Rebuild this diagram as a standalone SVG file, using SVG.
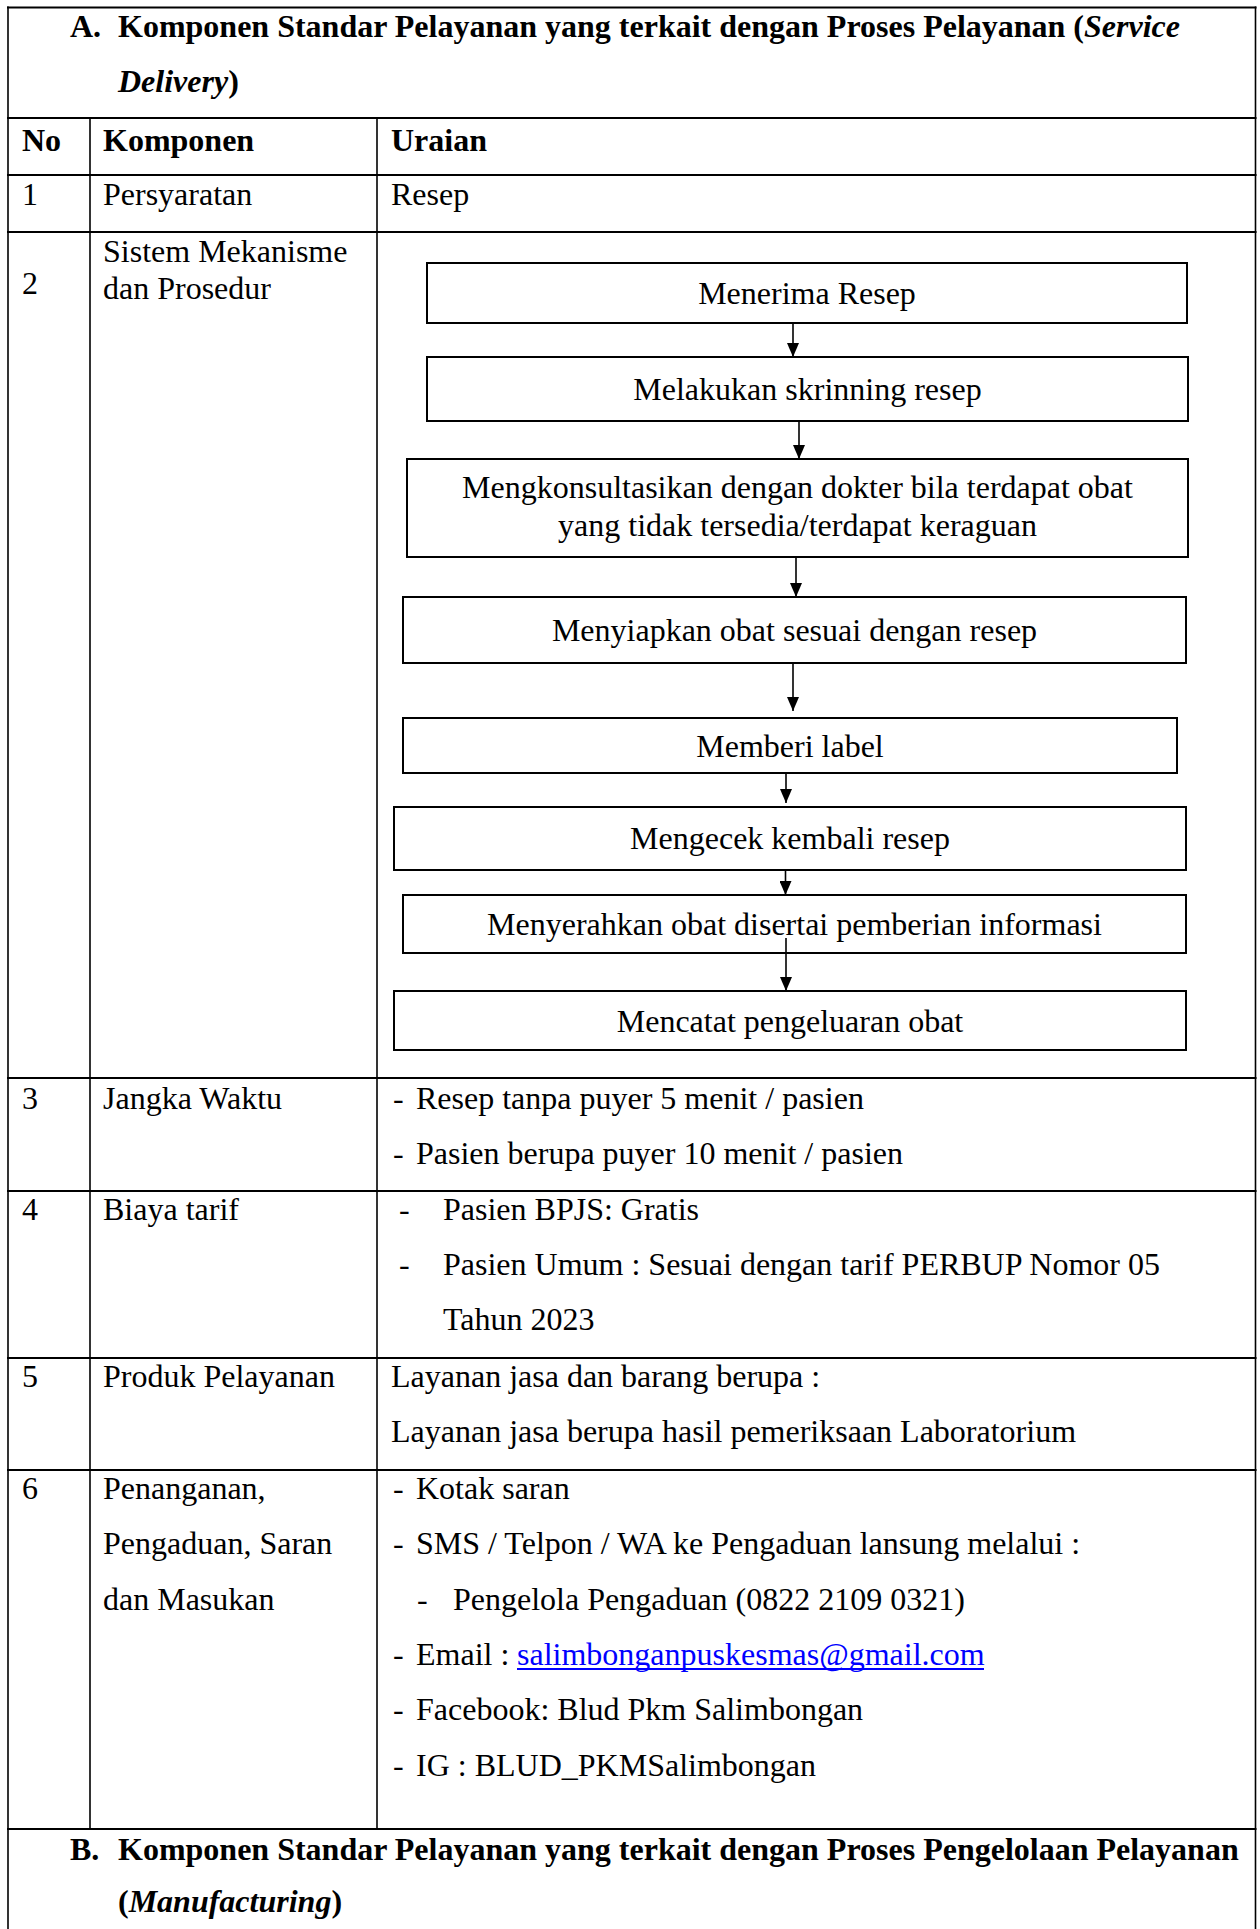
<svg xmlns="http://www.w3.org/2000/svg" width="1260" height="1929" viewBox="0 0 1260 1929">
<style>
text{font-family:"Liberation Serif","Times New Roman",serif;font-size:32px;fill:#000}
.b{font-weight:bold}
.i{font-style:italic}
.c{text-anchor:middle}
.h{stroke:#000;stroke-width:2.2;fill:none}
.v{stroke:#000;stroke-width:1.6;fill:none}
.box{fill:#fff;stroke:#000;stroke-width:2}
.arr{stroke:#000;stroke-width:1.6;fill:none;marker-end:url(#ah)}
.link{fill:#0000ff}
</style>
<defs>
<marker id="ah" viewBox="0 0 14 12" markerWidth="14" markerHeight="12" refX="14" refY="6" orient="auto" markerUnits="userSpaceOnUse">
<path d="M0,0 L14,6 L0,12 Z" fill="#000"/>
</marker>
</defs>
<rect width="1260" height="1929" fill="#fff"/>

<g id="table-grid">
<line class="v" x1="8" y1="6.5" x2="8" y2="1929"/>
<line class="v" x1="1255.5" y1="6.5" x2="1255.5" y2="1929"/>
<line class="h" x1="7" y1="7.5" x2="1256.5" y2="7.5"/>
<line class="h" x1="7" y1="118" x2="1256.5" y2="118"/>
<line class="h" x1="7" y1="175" x2="1256.5" y2="175"/>
<line class="h" x1="7" y1="232" x2="1256.5" y2="232"/>
<line class="h" x1="7" y1="1078" x2="1256.5" y2="1078"/>
<line class="h" x1="7" y1="1191" x2="1256.5" y2="1191"/>
<line class="h" x1="7" y1="1358" x2="1256.5" y2="1358"/>
<line class="h" x1="7" y1="1470" x2="1256.5" y2="1470"/>
<line class="h" x1="7" y1="1829" x2="1256.5" y2="1829"/>
<line class="v" x1="90" y1="118" x2="90" y2="1829"/>
<line class="v" x1="377" y1="118" x2="377" y2="1829"/>
</g>

<g id="title-a">
<text class="b" y="37"><tspan x="70">A.</tspan><tspan x="118">Komponen Standar Pelayanan yang terkait dengan Proses Pelayanan (</tspan><tspan class="i">Service</tspan></text>
<text class="b" x="118" y="92"><tspan class="i">Delivery</tspan>)</text>
</g>

<g id="header-row">
<text class="b" x="22" y="151">No</text>
<text class="b" x="103" y="151">Komponen</text>
<text class="b" x="391" y="151">Uraian</text>
</g>

<g id="row-1">
<text x="22" y="205">1</text>
<text x="103" y="205">Persyaratan</text>
<text x="391" y="205">Resep</text>
</g>

<g id="row-2">
<text x="22" y="294">2</text>
<text x="103" y="262">Sistem Mekanisme</text>
<text x="103" y="299">dan Prosedur</text>
</g>

<g id="connectors">
<line class="arr" x1="793" y1="323" x2="793" y2="357"/>
<line class="arr" x1="799" y1="421" x2="799" y2="459"/>
<line class="arr" x1="796" y1="557" x2="796" y2="597"/>
<line class="arr" x1="793" y1="663" x2="793" y2="711"/>
<line class="arr" x1="786" y1="773" x2="786" y2="803"/>
<line class="arr" x1="785.5" y1="870" x2="785.5" y2="895"/>
</g>

<g id="step-1">
<rect class="box" x="427" y="263" width="760" height="60"/>
<text class="c" x="807" y="304">Menerima Resep</text>
</g>
<g id="step-2">
<rect class="box" x="427" y="357" width="761" height="64"/>
<text class="c" x="807.5" y="400">Melakukan skrinning resep</text>
</g>
<g id="step-3">
<rect class="box" x="407" y="459" width="781" height="98"/>
<text class="c" x="797.5" y="498">Mengkonsultasikan dengan dokter bila terdapat obat</text>
<text class="c" x="797.5" y="536">yang tidak tersedia/terdapat keraguan</text>
</g>
<g id="step-4">
<rect class="box" x="403" y="597" width="783" height="66"/>
<text class="c" x="794.5" y="641">Menyiapkan obat sesuai dengan resep</text>
</g>
<g id="step-5">
<rect class="box" x="403" y="718" width="774" height="55"/>
<text class="c" x="790" y="757">Memberi label</text>
</g>
<g id="step-6">
<rect class="box" x="394" y="807" width="792" height="63"/>
<text class="c" x="790" y="849">Mengecek kembali resep</text>
</g>
<g id="step-7">
<rect class="box" x="403" y="895" width="783" height="58"/>
<text class="c" x="794.5" y="935">Menyerahkan obat disertai pemberian informasi</text>
</g>
<g id="step-8">
<rect class="box" x="394" y="991" width="792" height="59"/>
<text class="c" x="790" y="1032">Mencatat pengeluaran obat</text>
</g>
<g id="connector-7">
<line class="arr" x1="786" y1="938" x2="786" y2="991"/>
</g>

<g id="row-3">
<text x="22" y="1109">3</text>
<text x="103" y="1109">Jangka Waktu</text>
<text y="1109"><tspan x="393">-</tspan><tspan x="416">Resep tanpa puyer 5 menit / pasien</tspan></text>
<text y="1164"><tspan x="393">-</tspan><tspan x="416">Pasien berupa puyer 10 menit / pasien</tspan></text>
</g>

<g id="row-4">
<text x="22" y="1220">4</text>
<text x="103" y="1220">Biaya tarif</text>
<text y="1220"><tspan x="399">-</tspan><tspan x="443">Pasien BPJS: Gratis</tspan></text>
<text y="1275"><tspan x="399">-</tspan><tspan x="443">Pasien Umum : Sesuai dengan tarif PERBUP Nomor 05</tspan></text>
<text x="443" y="1330">Tahun 2023</text>
</g>

<g id="row-5">
<text x="22" y="1387">5</text>
<text x="103" y="1387">Produk Pelayanan</text>
<text x="391" y="1387">Layanan jasa dan barang berupa :</text>
<text x="391" y="1442">Layanan jasa berupa hasil pemeriksaan Laboratorium</text>
</g>

<g id="row-6">
<text x="22" y="1499">6</text>
<text x="103" y="1499">Penanganan,</text>
<text x="103" y="1554">Pengaduan, Saran</text>
<text x="103" y="1610">dan Masukan</text>
<text y="1499"><tspan x="393">-</tspan><tspan x="416">Kotak saran</tspan></text>
<text y="1554"><tspan x="393">-</tspan><tspan x="416">SMS / Telpon / WA ke Pengaduan lansung melalui :</tspan></text>
<text y="1610"><tspan x="417">-</tspan><tspan x="453">Pengelola Pengaduan (0822 2109 0321)</tspan></text>
<text y="1665"><tspan x="393">-</tspan><tspan x="416">Email : </tspan><tspan class="link" x="517">salimbonganpuskesmas@gmail.com</tspan></text>
<line x1="517" y1="1669" x2="984" y2="1669" stroke="#0000ff" stroke-width="2"/>
<text y="1720"><tspan x="393">-</tspan><tspan x="416">Facebook: Blud Pkm Salimbongan</tspan></text>
<text y="1776"><tspan x="393">-</tspan><tspan x="416">IG : BLUD_PKMSalimbongan</tspan></text>
</g>

<g id="title-b">
<text class="b" y="1860"><tspan x="70">B.</tspan><tspan x="118">Komponen Standar Pelayanan yang terkait dengan Proses Pengelolaan Pelayanan</tspan></text>
<text class="b" x="118" y="1912">(<tspan class="i">Manufacturing</tspan>)</text>
</g>
</svg>
